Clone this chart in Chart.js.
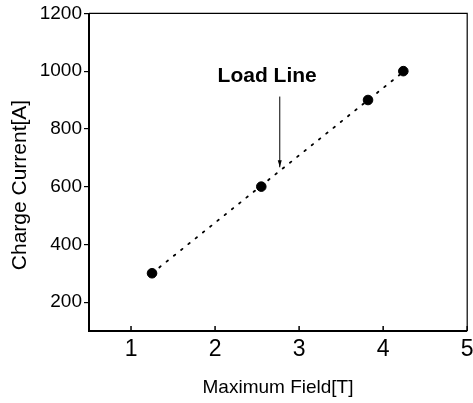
<!DOCTYPE html>
<html>
<head>
<meta charset="utf-8">
<script src="https://cdn.jsdelivr.net/npm/chart.js@4/dist/chart.umd.min.js"></script>
<style>
  html, body { margin: 0; padding: 0; background: #fff; }
  #wrap { width: 473px; height: 403px; }
</style>
</head>
<body>
<div id="wrap"><canvas id="myChart" width="473" height="403"></canvas></div>
<script>
// measured points
var fieldT = [1.25, 2.55, 3.82, 4.24];
var currentA = [300, 600, 900, 1000];
// the dotted load line, end to end
var lineField = [1.25, 4.25];
var lineCurrent = [300, 1000];
var xTicks = [1, 2, 3, 4, 5];
var yTicks = [200, 400, 600, 800, 1000, 1200];

var font = '"Liberation Sans", Arial, sans-serif';

function toXY(xs, ys) {
  return xs.map(function (x, i) { return { x: x, y: ys[i] }; });
}

// box around the plot, inward x ticks, labels and the "Load Line" arrow
var extras = {
  id: 'extras',
  afterDraw: function (chart) {
    var c = chart.ctx;
    var a = chart.chartArea;
    var xs = chart.scales.x, ys = chart.scales.y;
    c.save();
    c.strokeStyle = '#000';

    // thin top and right edges
    c.lineWidth = 1.2;
    c.beginPath();
    c.moveTo(a.left, a.top);
    c.lineTo(a.right, a.top);
    c.lineTo(a.right, a.bottom);
    c.stroke();
    // heavier left and bottom axes
    c.lineWidth = 2;
    c.beginPath();
    c.moveTo(a.left, a.top);
    c.lineTo(a.left, a.bottom);
    c.lineTo(a.right, a.bottom);
    c.stroke();

    c.lineWidth = 1.5;
    c.beginPath();
    xTicks.forEach(function (t) {
      var px = xs.getPixelForValue(t);
      c.moveTo(px, a.bottom);
      c.lineTo(px, a.bottom - 5);
    });
    c.stroke();

    c.fillStyle = '#000';
    c.font = 'bold 21px ' + font;
    c.textAlign = 'center';
    c.textBaseline = 'middle';
    c.fillText('Load Line', xs.getPixelForValue(2.62), ys.getPixelForValue(982));

    var ax = xs.getPixelForValue(2.77);
    var y1 = ys.getPixelForValue(912), y2 = ys.getPixelForValue(667);
    c.lineWidth = 1;
    c.beginPath();
    c.moveTo(ax, y1);
    c.lineTo(ax, y2);
    c.stroke();
    c.beginPath();
    c.moveTo(ax - 2, y2 - 7);
    c.lineTo(ax + 2, y2 - 7);
    c.lineTo(ax, y2);
    c.closePath();
    c.fill();

    c.font = '19px ' + font;
    c.fillText('Maximum Field[T]', 278, 388);
    c.font = '21px ' + font;
    c.translate(20, 185);
    c.rotate(-Math.PI / 2);
    c.fillText('Charge Current[A]', 0, 0);
    c.restore();
  }
};

var ctx = document.getElementById('myChart');
var myChart = new Chart(ctx, {
  type: 'scatter',
  data: {
    datasets: [
      {
        label: 'Load line',
        data: toXY(lineField, lineCurrent),
        showLine: true,
        borderColor: '#000',
        borderWidth: 1.8,
        borderDash: [1.8, 7.5],
        borderCapStyle: 'round',
        pointRadius: 0,
        fill: false
      },
      {
        label: 'Measured',
        data: toXY(fieldT, currentA),
        backgroundColor: '#000',
        borderColor: '#000',
        pointRadius: 4.8
      }
    ]
  },
  options: {
    responsive: false,
    animation: false,
    layout: { padding: { top: 13, right: 5, left: 0, bottom: 0 } },
    plugins: { legend: { display: false }, tooltip: { enabled: false } },
    scales: {
      x: {
        type: 'linear',
        min: 0.5,
        max: 5,
        afterBuildTicks: function (s) { s.ticks = xTicks.map(function (v) { return { value: v }; }); },
        afterFit: function (s) { s.height = 72; s.paddingRight = 0; s.paddingLeft = 0; },
        grid: { display: false, drawTicks: false },
        border: { display: false },
        ticks: { color: '#000', font: { family: font, size: 23 }, padding: 5, maxRotation: 0 }
      },
      y: {
        type: 'linear',
        min: 100,
        max: 1200,
        afterBuildTicks: function (s) { s.ticks = yTicks.map(function (v) { return { value: v }; }); },
        afterFit: function (s) { s.width = 89; },
        grid: { drawOnChartArea: false, tickLength: 5, color: '#000', lineWidth: 1.2 },
        border: { display: false },
        ticks: {
          color: '#000',
          font: { family: font, size: 19 },
          padding: 2,
          callback: function (v) { return String(v); }
        }
      }
    }
  },
  plugins: [extras]
});
</script>
</body>
</html>
